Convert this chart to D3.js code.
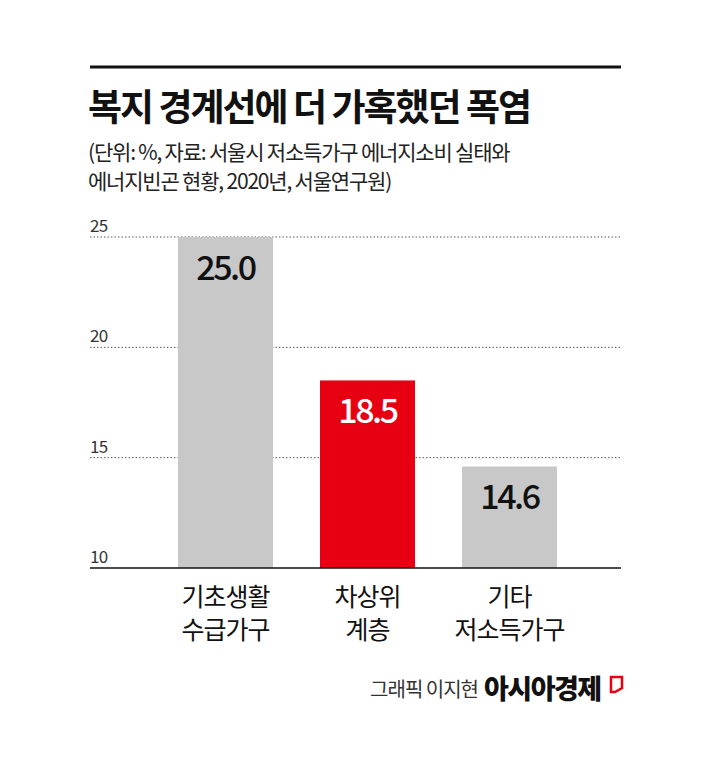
<!DOCTYPE html>
<html><head><meta charset="utf-8">
<script src="https://cdn.jsdelivr.net/npm/d3@7"></script>
<style>body{margin:0;background:#fff}</style>
</head><body>
<svg id="mysvg" width="710" height="768"></svg>
<script>
let categories = [["기초생활","수급가구"], ["차상위","계층"], ["기타","저소득가구"]];
let values = [25.0, 18.5, 14.6];
let colors = ["#c8c8c8", "#e60012", "#c8c8c8"];
let ticks = [10, 15, 20, 25];

let svg = d3.select('#mysvg');
let font = "'Noto Sans CJK KR', sans-serif";

svg.append("line").attr("x1", 90).attr("x2", 621).attr("y1", 67).attr("y2", 67)
    .attr("stroke", "#111").attr("stroke-width", 3);

svg.append("text").attr("x", 88).attr("y", 121).attr("font-family", font)
    .attr("font-size", 37).attr("font-weight", 700).attr("fill", "#111")
    .attr("letter-spacing", -2).text("복지 경계선에 더 가혹했던 폭염");
svg.append("text").attr("x", 88).attr("y", 160).attr("font-family", font)
    .attr("font-size", 21).attr("fill", "#222").attr("letter-spacing", -1.2)
    .text("(단위: %, 자료: 서울시 저소득가구 에너지소비 실태와");
svg.append("text").attr("x", 88).attr("y", 189).attr("font-family", font)
    .attr("font-size", 21).attr("fill", "#222").attr("letter-spacing", -1.2)
    .text("에너지빈곤 현황, 2020년, 서울연구원)");

let y = d3.scaleLinear().domain([10, 25]).range([568, 237]);
let x = d3.scaleBand().domain(d3.range(values.length)).range([178, 557]).paddingInner(0.331).paddingOuter(0);

ticks.forEach(function(t){
    if (t > 10)
        svg.append("line").attr("x1", 90).attr("x2", 621).attr("y1", y(t)).attr("y2", y(t))
            .attr("stroke", "#555").attr("stroke-width", 1).attr("stroke-dasharray", "1.5,2");
    svg.append("text").attr("x", 90).attr("y", y(t) - 5).attr("font-family", font)
        .attr("font-size", 17).attr("fill", "#333").attr("letter-spacing", -0.8).text(t);
});

let g = svg.selectAll("g.bar").data(values).enter().append("g").attr("class", "bar");
g.append("rect")
    .attr("x", function(d, i){return x(i)})
    .attr("y", function(d){return y(d)})
    .attr("width", x.bandwidth())
    .attr("height", function(d){return y(10) - y(d)})
    .attr("fill", function(d, i){return colors[i]});
g.append("text")
    .attr("x", function(d, i){return x(i) + x.bandwidth()/2})
    .attr("y", function(d){return y(d) + 43})
    .attr("text-anchor", "middle").attr("font-family", font).attr("font-size", 34)
    .attr("font-weight", 500).attr("letter-spacing", -2.5)
    .attr("fill", function(d, i){return i == 1 ? "#fff" : "#111"})
    .text(function(d){return d.toFixed(1)});

svg.append("line").attr("x1", 90).attr("x2", 621).attr("y1", 568).attr("y2", 568)
    .attr("stroke", "#111").attr("stroke-width", 1.5);

categories.forEach(function(c, i){
    c.forEach(function(s, j){
        svg.append("text").attr("x", x(i) + x.bandwidth()/2).attr("y", 606 + j*33)
            .attr("text-anchor", "middle").attr("font-family", font).attr("font-size", 25)
            .attr("letter-spacing", -1).attr("fill", "#111").text(s);
    });
});

svg.append("text").attr("x", 478).attr("y", 697).attr("text-anchor", "end").attr("font-family", font)
    .attr("font-size", 20).attr("fill", "#333").attr("letter-spacing", -1).text("그래픽 이지현");
svg.append("text").attr("x", 484).attr("y", 699).attr("font-family", font)
    .attr("font-size", 27).attr("font-weight", 900).attr("fill", "#111").attr("letter-spacing", -1.5).text("아시아경제");
svg.append("path").attr("d", "M611,677 L622,677 L622,688 L615,692 L611,692 Z")
    .attr("fill", "none").attr("stroke", "#e60012").attr("stroke-width", 2.5);
</script>
</body></html>
